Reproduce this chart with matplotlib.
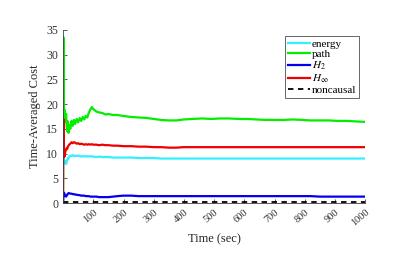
import matplotlib
matplotlib.use("Agg")
import matplotlib.pyplot as plt

plt.rcParams['font.family'] = ['Liberation Serif', 'DejaVu Serif']
plt.rcParams['mathtext.fontset'] = 'stix'

time = [0, 1, 2, 3, 4, 5, 6, 8, 10, 12, 14, 16, 18, 20, 24, 28, 32, 36, 40,
        45, 50, 55, 60, 65, 70, 75, 80, 85, 90, 95, 100, 110, 120, 130, 140, 150,
        165, 180, 200, 225, 250, 275, 300, 325, 350, 375, 400,
        430, 460, 490, 520, 550, 580, 610, 640, 670, 700,
        730, 760, 790, 820, 850, 880, 910, 940, 970, 1000]

path = [2, 33.5, 20, 18, 19, 17, 18.5,
        16.5, 18, 15.5, 14.5, 16.5, 14.2, 15.8,
        15.0, 16.6, 15.6, 16.8, 16.0,
        17.0, 16.3, 17.2, 16.6, 17.4, 16.9, 17.6, 17.3, 18.2, 18.9, 19.4, 19.0,
        18.5, 18.3, 18.2, 17.9, 18.0,
        17.8, 17.8, 17.6,
        17.4, 17.3, 17.2, 17.0, 16.8, 16.7, 16.7, 16.9,
        17.0, 17.1, 17.0, 17.1, 17.1, 17.0, 17.0, 16.9, 16.8, 16.8,
        16.8, 16.9, 16.8, 16.7, 16.7, 16.7, 16.6, 16.6, 16.5, 16.4]

hinf = [2, 17, 14, 11, 9.8, 9.4, 10.0,
        10.5, 10.8, 11.1, 11.0, 11.4, 11.6, 11.8,
        12.0, 12.3, 12.1, 12.3, 12.2,
        12.0, 12.1, 11.9, 12.0, 11.9, 11.8, 11.9, 11.8, 11.9, 11.8, 11.9, 11.8,
        11.8, 11.7, 11.8, 11.7, 11.7,
        11.6, 11.6, 11.5,
        11.5, 11.4, 11.4, 11.3, 11.3, 11.2, 11.2, 11.3,
        11.3, 11.3, 11.3, 11.3, 11.3, 11.3, 11.3, 11.3, 11.3, 11.3,
        11.3, 11.3, 11.3, 11.3, 11.3, 11.3, 11.3, 11.3, 11.3, 11.3]

energy = [8, 8.8, 9.3, 8.8, 8.4, 8.2, 8.5,
          8.0, 7.9, 8.3, 8.8, 9.1, 9.0, 9.4,
          9.6, 9.5, 9.7, 9.5, 9.6,
          9.5, 9.6, 9.5, 9.4, 9.5, 9.4, 9.5, 9.4, 9.4, 9.5, 9.4, 9.4,
          9.3, 9.4, 9.3, 9.3, 9.3,
          9.2, 9.2, 9.2,
          9.2, 9.1, 9.1, 9.1, 9.0, 9.0, 9.0, 9.0,
          9.0, 9.0, 9.0, 9.0, 9.0, 9.0, 9.0, 9.0, 9.0, 9.0,
          9.0, 9.0, 9.0, 9.0, 9.0, 9.0, 9.0, 9.0, 9.0, 9.0]

h2 = [0, 1.0, 1.8, 2.1, 2.0, 1.8, 1.6,
      1.4, 1.3, 1.5, 1.7, 1.9, 2.0, 2.0,
      1.9, 1.9, 1.8, 1.8, 1.7,
      1.7, 1.6, 1.6, 1.5, 1.5, 1.5, 1.4, 1.4, 1.4, 1.3, 1.3, 1.3,
      1.3, 1.2, 1.2, 1.2, 1.2,
      1.3, 1.4, 1.5,
      1.5, 1.4, 1.4, 1.4, 1.4, 1.4, 1.4, 1.4,
      1.4, 1.4, 1.4, 1.4, 1.4, 1.4, 1.4, 1.4, 1.4, 1.4,
      1.4, 1.4, 1.4, 1.4, 1.3, 1.3, 1.3, 1.3, 1.3, 1.3]

noncausal_time = [0, 1000]
noncausal = [0.15, 0.15]

xticks = [100, 200, 300, 400, 500, 600, 700, 800, 900, 1000]
yticks = [0, 5, 10, 15, 20, 25, 30, 35]

fig = plt.figure(figsize=(4.15, 2.6), dpi=100)
ax = fig.add_axes([0.152, 0.219, 0.728, 0.666])

lw = 1.6
ax.plot(time, energy, color='#33F0FF', lw=lw, label='energy')
ax.plot(time, path, color='#00EE00', lw=lw, label='path')
ax.plot(time, h2, color='#0000EE', lw=lw, label='$H_2$')
ax.plot(time, hinf, color='#EE0000', lw=lw, label=r'$H_\infty$')
ax.plot(noncausal_time, noncausal, color='black', lw=1.3, ls=(0, (3, 2.5)), label='noncausal')

ax.set_xlim(0, 1000)
ax.set_ylim(0, 35)
ax.set_xticks(xticks)
ax.set_xticklabels([str(v) for v in xticks], rotation=40, ha='right', rotation_mode='anchor', fontsize=7.5)
ax.set_yticks(yticks)
ax.set_yticklabels([str(v) for v in yticks], fontsize=8.5)
ax.tick_params(direction='in', length=3, width=0.6, colors='0.25', labelcolor='0.2')
for s in ['top', 'right']:
    ax.spines[s].set_visible(False)
for s in ['left', 'bottom']:
    ax.spines[s].set_linewidth(0.6)
    ax.spines[s].set_color('0.25')

ax.set_xlabel('Time (sec)', fontsize=9, color='0.15', labelpad=4)
ax.set_ylabel('Time-Averaged Cost', fontsize=9, color='0.15', labelpad=4)

leg = ax.legend(loc='upper right', bbox_to_anchor=(0.98, 0.965), fontsize=8,
                handlelength=2.0, handletextpad=0.15, labelspacing=0.05,
                borderpad=0.25, borderaxespad=0.0, fancybox=False, framealpha=1)
leg.get_frame().set_edgecolor('0.3')
leg.get_frame().set_linewidth(0.6)

fig.savefig('out.png', dpi=100)
